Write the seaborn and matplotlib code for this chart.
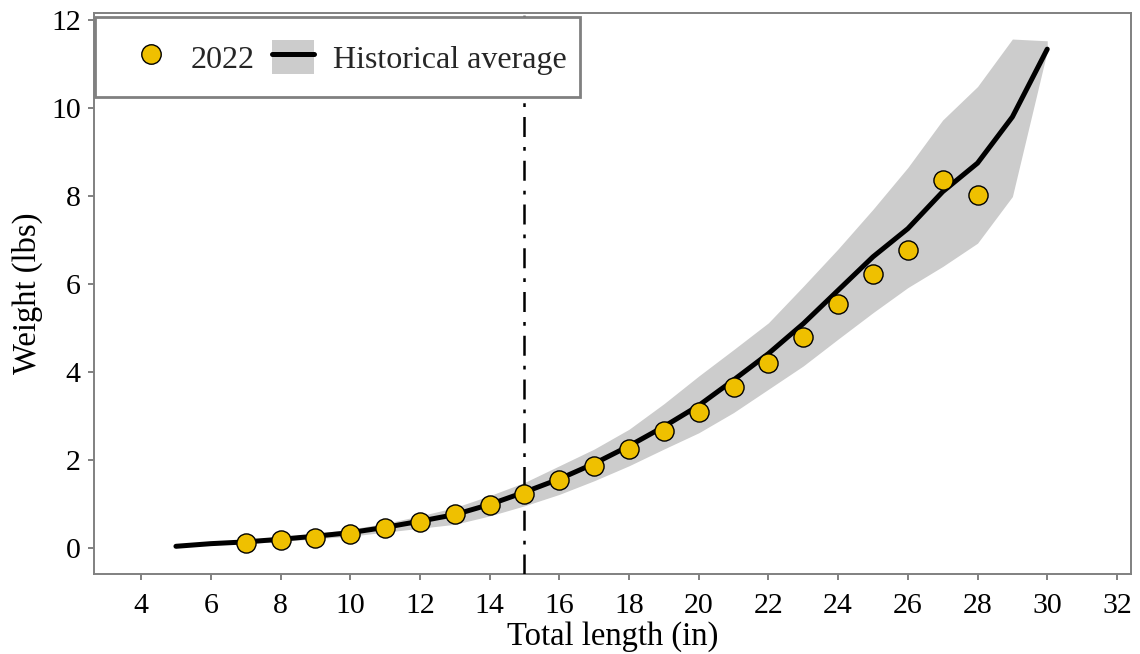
import matplotlib
matplotlib.use("Agg")
import matplotlib.pyplot as plt
from matplotlib.patches import Patch, Rectangle
from matplotlib.lines import Line2D
import seaborn as sns
import pandas as pd

# Historical length-weight relationship (mean and range)
hist_length = [5, 6, 7, 8, 9, 10, 11, 12, 13, 14, 15, 16, 17, 18, 19, 20, 21, 22,
               23, 24, 25, 26, 27, 28, 29, 30]
hist_mean = [0.04, 0.10, 0.14, 0.20, 0.27, 0.35, 0.47, 0.61, 0.76, 0.99, 1.27, 1.57,
             1.92, 2.32, 2.76, 3.24, 3.82, 4.42, 5.10, 5.86, 6.62, 7.26, 8.10, 8.75,
             9.80, 11.34]
hist_upper = [0.06, 0.13, 0.18, 0.25, 0.33, 0.43, 0.56, 0.73, 0.92, 1.19, 1.49, 1.87,
              2.25, 2.70, 3.28, 3.91, 4.51, 5.12, 5.95, 6.80, 7.70, 8.65, 9.73, 10.49,
              11.57, 11.53]
hist_lower = [0.02, 0.07, 0.10, 0.15, 0.21, 0.27, 0.36, 0.45, 0.54, 0.73, 0.96, 1.22,
              1.53, 1.87, 2.25, 2.62, 3.08, 3.61, 4.14, 4.75, 5.35, 5.92, 6.40, 6.93,
              7.99, 11.30]

# 2022 sample mean weights by length class
y2022_length = [7, 8, 9, 10, 11, 12, 13, 14, 15, 16, 17, 18, 19, 20, 21, 22, 23, 24,
                25, 26, 27, 28]
y2022_weight = [0.11, 0.19, 0.23, 0.32, 0.45, 0.60, 0.77, 0.99, 1.24, 1.54, 1.87, 2.25,
                2.66, 3.10, 3.66, 4.20, 4.80, 5.55, 6.22, 6.78, 8.37, 8.03]

x_ticks = [4, 6, 8, 10, 12, 14, 16, 18, 20, 22, 24, 26, 28, 30, 32]
y_ticks = [0, 2, 4, 6, 8, 10, 12]
ref_length = 15

hist = pd.DataFrame({"length": hist_length, "mean": hist_mean,
                     "lower": hist_lower, "upper": hist_upper})
cur = pd.DataFrame({"length": y2022_length, "weight": y2022_weight})

sns.set_theme(style="white")
plt.rcParams["font.family"] = ["Liberation Serif", "DejaVu Serif"]

frame_grey = "#808080"
band_grey = "#CCCCCC"
gold = "#EFC000"

fig = plt.figure(figsize=(11.4, 6.54), dpi=100)
ax = fig.add_axes([0.0825, 0.1223, 0.9095, 0.8577])

ax.fill_between(hist["length"], hist["lower"], hist["upper"],
                color=band_grey, linewidth=0, zorder=1)
sns.lineplot(data=hist, x="length", y="mean", ax=ax, color="black",
             linewidth=3.6, zorder=2, legend=False)
ax.axvline(ref_length, color="black", linewidth=1.8,
           linestyle=(0, (8, 4, 1.5, 4)), zorder=3)
sns.scatterplot(data=cur, x="length", y="weight", ax=ax, color=gold,
                edgecolor="black", linewidth=1.0, s=190, zorder=4, legend=False)

ax.set_xlim(2.65, 32.4)
ax.set_ylim(-0.59, 12.16)
ax.set_xticks(x_ticks)
ax.set_yticks(y_ticks)
ax.set_xlabel("Total length (in)", fontsize=23.5, color="black", labelpad=2)
ax.set_ylabel("Weight (lbs)", fontsize=23.5, color="black", labelpad=6)
ax.tick_params(axis="both", labelsize=21.5, colors=frame_grey, labelcolor="black",
               direction="out", length=4.5, width=1.4, bottom=True, left=True)
ax.tick_params(axis="x", pad=9)
ax.tick_params(axis="y", pad=5)
for sp in ax.spines.values():
    sp.set_color(frame_grey)
    sp.set_linewidth(1.4)

# Legend box (white panel with grey border) behind the legend entries
ax.add_patch(Rectangle((0.001, 0.8503), 0.4677, 0.1426, transform=ax.transAxes,
                       facecolor="white", edgecolor=frame_grey, linewidth=2.0,
                       zorder=9, clip_on=False))

handles = [
    Line2D([], [], marker="o", linestyle="none", markerfacecolor=gold,
           markeredgecolor="black", markeredgewidth=1.0, markersize=14),
    (Patch(facecolor=band_grey, edgecolor="none"),
     Line2D([], [], color="black", linewidth=3.6)),
]
leg = ax.legend(handles, ["2022", "Historical average"], ncol=2,
                loc="center left", bbox_to_anchor=(0.0347, 0.9216),
                borderaxespad=0, borderpad=0, frameon=False,
                fontsize=23, handlelength=1.3, handleheight=1.3,
                handletextpad=0.6, columnspacing=0.55)
leg.set_zorder(10)

fig.savefig("out.png", dpi=100)
